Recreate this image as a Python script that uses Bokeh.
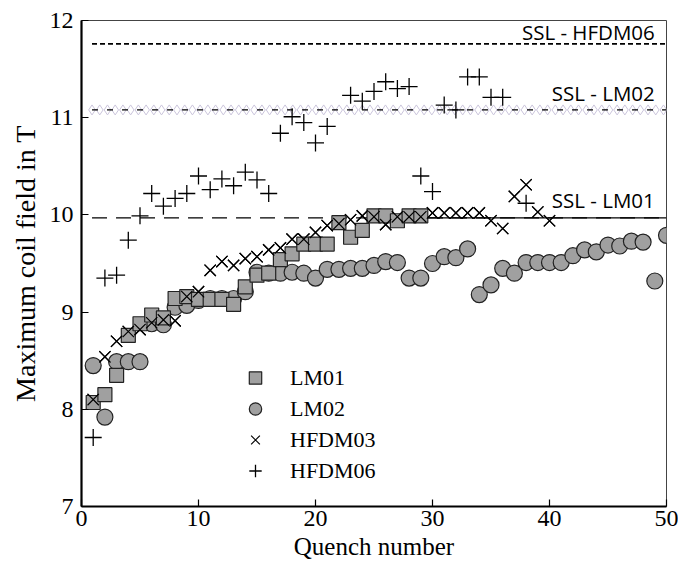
from bokeh.plotting import figure
from bokeh.models import Range1d, FixedTicker, Label, Legend, LegendItem
from bokeh.embed import file_html
from bokeh.resources import INLINE
import numpy as np

# ---- data ----
lm01_x = list(range(1, 30))
lm01_y = [8.07, 8.15, 8.35, 8.76, 8.88, 8.97, 8.94, 9.14, 9.16, 9.13,
          9.13, 9.13, 9.08, 9.26, 9.38, 9.40, 9.54, 9.60, 9.70, 9.70,
          9.70, 9.92, 9.77, 9.84, 9.99, 9.99, 9.94, 9.99, 9.99]

lm02_x = list(range(1, 51))
lm02_y = [8.45, 7.92, 8.49, 8.49, 8.49, 8.88, 8.87, 9.05, 9.07, 9.12,
          9.14, 9.14, 9.14, 9.21, 9.41, 9.40, 9.40, 9.41, 9.40, 9.35,
          9.44, 9.44, 9.45, 9.45, 9.48, 9.52, 9.51, 9.35, 9.35, 9.50,
          9.57, 9.56, 9.65, 9.18, 9.28, 9.45, 9.40, 9.51, 9.51, 9.51,
          9.51, 9.58, 9.64, 9.62, 9.69, 9.68, 9.73, 9.72, 9.32, 9.79]

hfdm03_x = list(range(1, 41))
hfdm03_y = [8.10, 8.54, 8.70, 8.80, 8.82, 8.89, 8.92, 8.91, 9.16, 9.21,
            9.43, 9.52, 9.48, 9.55, 9.57, 9.64, 9.66, 9.75, 9.75, 9.82,
            9.89, 9.91, 9.95, 9.99, 9.98, 9.90, 9.98, 9.98, 9.98, 10.02,
            10.02, 10.02, 10.02, 10.02, 9.94, 9.86, 10.19, 10.31, 10.03, 9.94]

hfdm06_x = [1, 2, 3, 4, 5, 6, 7, 8, 9, 10, 11, 12, 13, 14, 15, 16, 17, 18, 19,
            20, 21, 23, 24, 25, 26, 27, 28, 29, 30, 31, 32, 33, 34, 35, 36, 38]
hfdm06_y = [7.71, 9.35, 9.38, 9.74, 9.99, 10.22, 10.09, 10.17, 10.22, 10.40,
            10.26, 10.37, 10.30, 10.44, 10.36, 10.22, 10.84, 11.01, 10.95,
            10.74, 10.91, 11.23, 11.17, 11.27, 11.37, 11.30, 11.32, 10.40,
            10.24, 11.13, 11.08, 11.42, 11.42, 11.21, 11.21, 10.12]

ssl_names = ["SSL - HFDM06", "SSL - LM02", "SSL - LM01"]
ssl_values = [11.76, 11.08, 9.97]

x_ticks = [0, 10, 20, 30, 40, 50]
y_ticks = [7, 8, 9, 10, 11, 12]

SERIF = "Liberation Serif"
SANS = "Open Sans"
GRAY = "#a0a0a0"

p = figure(width=678, height=566, output_backend="svg", toolbar_location=None,
           x_range=Range1d(0, 50), y_range=Range1d(7, 12),
           min_border_left=81, min_border_right=12, min_border_top=20,
           min_border_bottom=60)
p.xgrid.visible = False
p.ygrid.visible = False
p.background_fill_color = "white"
p.border_fill_color = "white"
p.outline_line_color = "#444444"
p.outline_line_width = 1

for ax in (p.xaxis[0], p.yaxis[0]):
    ax.axis_line_width = 2.2
    ax.axis_line_color = "black"
    ax.major_tick_in = 7
    ax.major_tick_out = 0
    ax.major_tick_line_color = "black"
    ax.major_tick_line_width = 1.2
    ax.minor_tick_line_color = None
    ax.major_label_text_font = SERIF
    ax.major_label_text_font_size = "24px"
    ax.major_label_text_color = "black"
    ax.axis_label_text_font = SERIF
    ax.axis_label_text_font_style = "normal"
    ax.axis_label_text_color = "black"

p.xaxis.axis_label_text_font_size = "25px"
p.yaxis.axis_label_text_font_size = "28px"
p.xaxis.ticker = FixedTicker(ticks=x_ticks)
p.yaxis.ticker = FixedTicker(ticks=y_ticks)
p.xaxis.axis_label = "Quench number"
p.yaxis.axis_label = "Maximum coil field in T"
p.xaxis.major_label_standoff = 4
p.yaxis.major_label_standoff = 8
p.xaxis.axis_label_standoff = 4
p.yaxis.axis_label_standoff = 6

# ---- SSL reference lines ----
x_start, x_end = 0.9, 50
# HFDM06: short dashes
p.line([x_start, x_end], [ssl_values[0]] * 2, line_color="black",
       line_width=1.6, line_dash="5 3")
# LM02: lavender diamond chain + black dashes
dx = np.arange(x_start, x_end + 0.2, 0.66)
p.scatter(dx, [ssl_values[1]] * len(dx), marker="diamond", size=10,
          fill_color=None, line_color="#cbc5dc", line_width=1)
p.line([x_start, x_end], [ssl_values[1]] * 2, line_color="black",
       line_width=1.4, line_dash="6 9")
# LM01: long dashes, solid on the right part
p.line([x_start, x_end], [ssl_values[2]] * 2, line_color="black",
       line_width=1.3, line_dash="15 9")
p.line([29.5, x_end], [ssl_values[2]] * 2, line_color="black", line_width=1.3)

label_y = [11.88, 11.25, 10.15]
for name, ly in zip(ssl_names, label_y):
    p.add_layout(Label(x=49, y=ly, text=name, text_align="right",
                       text_baseline="middle", text_font=SANS,
                       text_font_size="20.5px", text_color="black"))

# ---- data series ----
r_hf06 = p.scatter(hfdm06_x, hfdm06_y, marker="cross", size=17,
                   line_color="black", line_width=1.3)
r_hf03 = p.scatter(hfdm03_x, hfdm03_y, marker="x", size=16,
                   line_color="black", line_width=1.2)
r_lm02 = p.scatter(lm02_x, lm02_y, marker="circle", size=16,
                   fill_color=GRAY, line_color="#222222", line_width=1.2)
r_lm01 = p.scatter(lm01_x, lm01_y, marker="square", size=14,
                   fill_color=GRAY, line_color="#222222", line_width=1.2)
# redraw crosses above so they stay visible over filled markers
p.scatter(hfdm03_x, hfdm03_y, marker="x", size=16,
          line_color="black", line_width=1.2)

legend = Legend(items=[LegendItem(label="LM01", renderers=[r_lm01]),
                       LegendItem(label="LM02", renderers=[r_lm02]),
                       LegendItem(label="HFDM03", renderers=[r_hf03]),
                       LegendItem(label="HFDM06", renderers=[r_hf06])],
                location=(155, 20), padding=0, spacing=0, margin=0,
                glyph_width=38, glyph_height=31, label_standoff=16,
                label_text_font=SERIF, label_text_font_size="22px",
                label_text_color="black", label_text_baseline="middle",
                border_line_color=None, background_fill_alpha=0)
p.add_layout(legend)

open("out.html", "w").write(file_html(p, INLINE))
